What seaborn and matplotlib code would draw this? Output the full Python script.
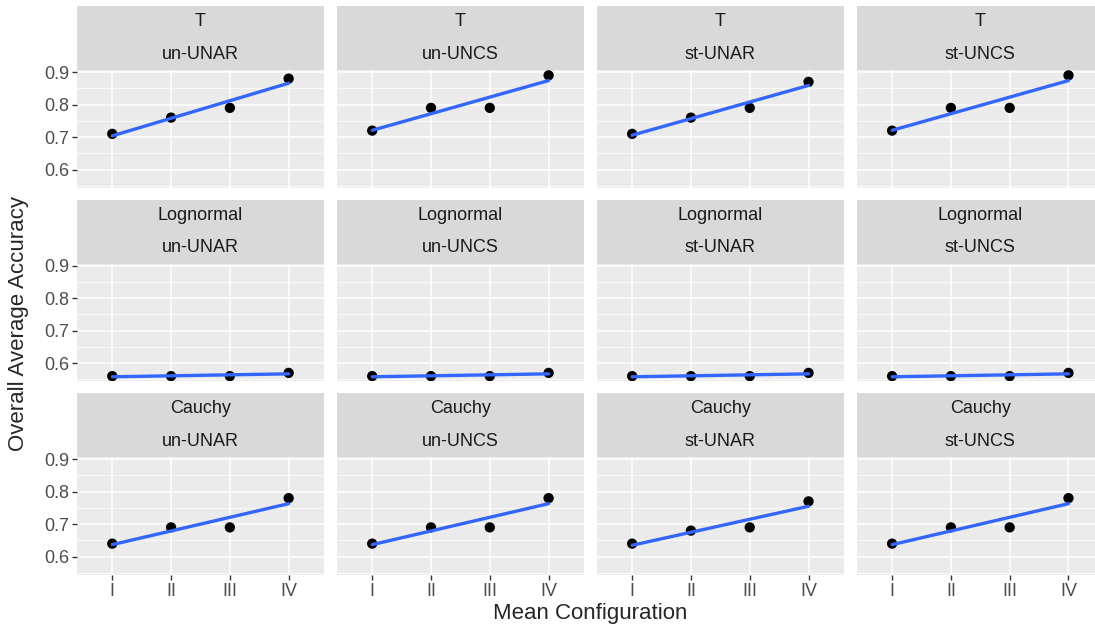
import pandas as pd
import seaborn as sns
import matplotlib.pyplot as plt
from matplotlib.patches import Rectangle

configs = ['I', 'II', 'III', 'IV']
dists = ['T', 'Lognormal', 'Cauchy']
methods = ['un-UNAR', 'un-UNCS', 'st-UNAR', 'st-UNCS']

t_un_unar = [0.71, 0.76, 0.79, 0.88]
t_un_uncs = [0.72, 0.79, 0.79, 0.89]
t_st_unar = [0.71, 0.76, 0.79, 0.87]
t_st_uncs = [0.72, 0.79, 0.79, 0.89]
ln_un_unar = [0.56, 0.56, 0.56, 0.57]
ln_un_uncs = [0.56, 0.56, 0.56, 0.57]
ln_st_unar = [0.56, 0.56, 0.56, 0.57]
ln_st_uncs = [0.56, 0.56, 0.56, 0.57]
ca_un_unar = [0.64, 0.69, 0.69, 0.78]
ca_un_uncs = [0.64, 0.69, 0.69, 0.78]
ca_st_unar = [0.64, 0.68, 0.69, 0.77]
ca_st_uncs = [0.64, 0.69, 0.69, 0.78]

series = {
    ('T', 'un-UNAR'): t_un_unar, ('T', 'un-UNCS'): t_un_uncs,
    ('T', 'st-UNAR'): t_st_unar, ('T', 'st-UNCS'): t_st_uncs,
    ('Lognormal', 'un-UNAR'): ln_un_unar, ('Lognormal', 'un-UNCS'): ln_un_uncs,
    ('Lognormal', 'st-UNAR'): ln_st_unar, ('Lognormal', 'st-UNCS'): ln_st_uncs,
    ('Cauchy', 'un-UNAR'): ca_un_unar, ('Cauchy', 'un-UNCS'): ca_un_uncs,
    ('Cauchy', 'st-UNAR'): ca_st_unar, ('Cauchy', 'st-UNCS'): ca_st_uncs,
}

rows = []
for (d, m), vals in series.items():
    for i, c in enumerate(configs):
        rows.append({'dist': d, 'method': m, 'config': c, 'pos': i + 1, 'acc': vals[i]})
df = pd.DataFrame(rows)

sns.set_theme(style='darkgrid', rc={
    'axes.facecolor': '#EBEBEB', 'grid.color': 'white', 'grid.linewidth': 1.1,
    'xtick.color': '#333333', 'ytick.color': '#333333',
    'xtick.labelcolor': '#4D4D4D', 'ytick.labelcolor': '#4D4D4D',
    'xtick.major.size': 3.5, 'ytick.major.size': 3.5,
    'xtick.bottom': True, 'ytick.left': True,
    'xtick.major.width': 1.0, 'ytick.major.width': 1.0,
})
plt.rcParams['font.family'] = ['Liberation Sans', 'DejaVu Sans']

g = sns.FacetGrid(df, row='dist', col='method', row_order=dists, col_order=methods,
                  sharex=True, sharey=True, despine=False)
g.map_dataframe(sns.scatterplot, x='pos', y='acc', color='black', s=55, edgecolor='none', zorder=3)
g.map_dataframe(sns.regplot, x='pos', y='acc', scatter=False, ci=None,
                line_kws={'color': '#3366FF', 'lw': 2.4, 'zorder': 4})

fig = g.figure
fig.set_size_inches(10.95, 6.25)
fig.subplots_adjust(left=0.0703, right=1.008, top=0.888, bottom=0.08, wspace=0.0526, hspace=0.64)

for r, d in enumerate(dists):
    for c, m in enumerate(methods):
        ax = g.axes[r, c]
        ax.set_title('')
        ax.set_xlabel('')
        ax.set_ylabel('')
        ax.set_xlim(0.4, 4.6)
        ax.set_ylim(0.5435, 0.9065)
        ax.set_xticks([1, 2, 3, 4])
        ax.set_xticklabels(configs)
        ax.set_yticks([0.6, 0.7, 0.8, 0.9])
        ax.set_yticks([0.55, 0.65, 0.75, 0.85], minor=True)
        ax.grid(which='minor', axis='y', color='white', linewidth=0.55)
        ax.tick_params(axis='y', which='minor', left=False, length=0)
        ax.tick_params(axis='both', which='major', labelsize=13, pad=2)
        for s in ax.spines.values():
            s.set_visible(False)
        if c > 0:
            ax.tick_params(axis='y', which='both', left=False, labelleft=False)
        if r < 2:
            ax.tick_params(axis='x', which='both', bottom=False, labelbottom=False)
        # two-line strip
        sh = 0.54
        ax.add_patch(Rectangle((0, 1), 1, sh, transform=ax.transAxes, facecolor='#D9D9D9',
                               edgecolor='none', clip_on=False))
        ax.text(0.5, 1 + sh * 0.76, d, transform=ax.transAxes, ha='center', va='center',
                fontsize=13, color='#1A1A1A')
        ax.text(0.5, 1 + sh * 0.25, m, transform=ax.transAxes, ha='center', va='center',
                fontsize=13, color='#1A1A1A')

fig.text(0.539, 0.018, 'Mean Configuration', ha='center', va='center', fontsize=16)
fig.text(0.017, 0.483, 'Overall Average Accuracy', ha='center', va='center', fontsize=16, rotation=90)

fig.savefig('out.png', dpi=100)
